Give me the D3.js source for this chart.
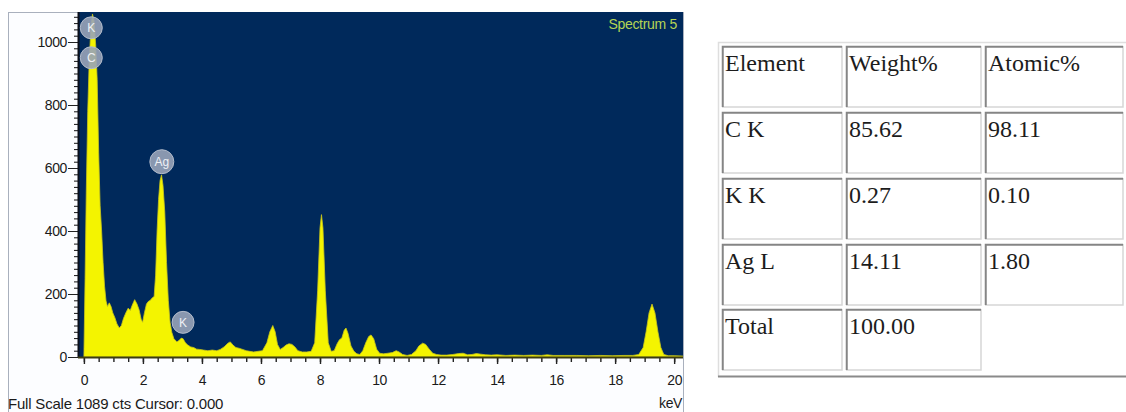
<!DOCTYPE html>
<meta charset="utf-8">
<style>
    body {
        margin: 0;
        background: #fff;
    }

    svg text {
        font-family: "Liberation Sans", Arial, sans-serif;
    }

    .axis text {
        fill: #1a1a1a;
        font-size: 14px;
        letter-spacing: -0.4px;
    }

    .cell text {
        font-family: "Liberation Serif", "Times New Roman", serif;
        font-size: 24px;
        fill: #1c1c1c;
    }
</style>

<body>
    <script src="https://d3js.org/d3.v7.min.js"></script>
    <script>
        // spectrum: [keV, counts]
        var spectrum = [
            [0.00, 0], [0.04, 250], [0.08, 520], [0.13, 780], [0.18, 940], [0.24, 1050],
            [0.29, 1089], [0.34, 1070], [0.40, 990], [0.45, 880], [0.50, 650], [0.55, 480],
            [0.60, 400], [0.65, 300], [0.70, 225], [0.75, 178], [0.80, 160], [0.86, 172],
            [0.92, 160], [0.98, 140], [1.05, 125], [1.12, 105], [1.20, 92], [1.27, 100],
            [1.34, 122], [1.42, 140], [1.50, 155], [1.57, 148], [1.64, 165], [1.72, 182],
            [1.80, 168], [1.87, 150], [1.94, 120], [1.99, 110], [2.05, 140], [2.12, 168],
            [2.18, 176], [2.25, 180], [2.32, 188], [2.38, 192], [2.43, 260], [2.48, 400],
            [2.53, 500], [2.58, 560], [2.63, 578], [2.68, 545], [2.74, 460], [2.80, 300],
            [2.86, 180], [2.92, 110], [2.98, 78], [3.05, 58], [3.15, 48], [3.22, 52],
            [3.30, 60], [3.36, 58], [3.44, 45], [3.52, 38], [3.62, 32], [3.72, 30],
            [3.82, 25], [3.92, 24], [4.05, 22], [4.20, 20], [4.35, 22], [4.50, 20],
            [4.62, 24], [4.75, 32], [4.88, 44], [4.96, 48], [5.05, 38], [5.15, 30],
            [5.25, 28], [5.35, 25], [5.50, 20], [5.62, 18], [5.75, 16], [5.90, 18],
            [6.05, 20], [6.20, 45], [6.30, 80], [6.40, 100], [6.48, 80], [6.56, 40],
            [6.65, 24], [6.75, 30], [6.85, 38], [6.95, 42], [7.05, 40], [7.15, 32],
            [7.25, 20], [7.40, 16], [7.55, 16], [7.70, 18], [7.82, 45], [7.92, 210],
            [8.00, 410], [8.05, 452], [8.10, 410], [8.18, 210], [8.28, 45], [8.38, 18],
            [8.48, 20], [8.58, 42], [8.66, 55], [8.74, 60], [8.82, 85], [8.88, 92],
            [8.95, 75], [9.05, 35], [9.15, 18], [9.25, 10], [9.35, 8], [9.45, 20],
            [9.55, 45], [9.65, 65], [9.73, 70], [9.82, 58], [9.92, 25], [10.02, 12],
            [10.15, 10], [10.30, 12], [10.45, 14], [10.58, 20], [10.68, 16], [10.80, 8],
            [10.95, 5], [11.10, 8], [11.25, 20], [11.35, 35], [11.48, 44], [11.58, 40],
            [11.70, 25], [11.82, 12], [11.95, 8], [12.10, 6], [12.30, 6], [12.50, 8],
            [12.70, 11], [12.85, 12], [13.00, 7], [13.15, 8], [13.30, 11], [13.45, 9],
            [13.60, 7], [13.80, 6], [14.00, 7], [14.30, 5], [14.60, 6], [14.90, 5],
            [15.20, 6], [15.50, 5], [15.70, 7], [15.90, 5], [16.30, 5], [16.70, 5],
            [17.10, 4], [17.50, 5], [17.90, 4], [18.30, 5], [18.60, 5], [18.80, 8],
            [18.95, 30], [19.05, 80], [19.15, 140], [19.25, 168], [19.35, 140], [19.45, 80],
            [19.55, 30], [19.65, 8], [19.80, 4], [20.00, 4], [20.30, 3]
        ];

        // element markers on the spectrum
        var peakLabels = ["K", "C", "Ag", "K"];
        var peakKeV = [0.25, 0.25, 2.64, 3.36];
        var peakCts = [1045, 950, 620, 110];

        var xTicks = [0, 2, 4, 6, 8, 10, 12, 14, 16, 18, 20];
        var yTicks = [0, 200, 400, 600, 800, 1000];

        var fullScale = 1089;
        var spectrumName = "Spectrum 5";

        // quantification table
        var tableHeader = ["Element", "Weight%", "Atomic%"];
        var elements = ["C K", "K K", "Ag L", "Total"];
        var weightPct = ["85.62", "0.27", "14.11", "100.00"];
        var atomicPct = ["98.11", "0.10", "1.80", null];

        var W = 1126,
            H = 412;
        var plot = {
            left: 78,
            right: 683,
            top: 12,
            bottom: 357
        };

        var svg = d3.select("body").append("svg")
            .attr("width", W)
            .attr("height", H);

        var x = d3.scaleLinear()
            .domain([-0.2, 20.3])
            .range([plot.left, plot.right]);
        var y = d3.scaleLinear()
            .domain([0, 1000])
            .range([plot.bottom, 42]);

        // panel frame
        svg.append("rect")
            .attr("x", 8.5)
            .attr("y", 12.5)
            .attr("width", plot.right - 8)
            .attr("height", H)
            .style("fill", "#fcfdff")
            .style("stroke", "#a9b0bd");

        svg.append("rect")
            .attr("x", plot.left)
            .attr("y", plot.top)
            .attr("width", plot.right - plot.left)
            .attr("height", plot.bottom - plot.top)
            .style("fill", "#00295b");

        svg.append("clipPath")
            .attr("id", "clip")
            .append("rect")
            .attr("x", plot.left)
            .attr("y", plot.top)
            .attr("width", plot.right - plot.left)
            .attr("height", plot.bottom - plot.top);

        var area = d3.area()
            .x(function(d) { return x(d[0]); })
            .y0(plot.bottom)
            .y1(function(d) { return y(d[1]); });

        svg.append("path")
            .datum(spectrum)
            .attr("clip-path", "url(#clip)")
            .attr("d", area)
            .style("fill", "#f4f400")
            .style("stroke", "#c9c51a")
            .style("stroke-width", 0.8);

        // axes
        var yAxis = d3.axisLeft(y)
            .tickValues(d3.range(0, 1081, 20))
            .tickSize(4)
            .tickFormat("");
        svg.append("g")
            .attr("class", "axis")
            .attr("transform", "translate(" + plot.left + ",0)")
            .call(yAxis)
            .call(function(g) {
                g.select(".domain").remove();
                g.selectAll("line").style("stroke", "#111");
            });

        var yMajor = d3.axisLeft(y)
            .tickValues(yTicks)
            .tickSize(10)
            .tickPadding(1)
            .tickFormat(d3.format("d"));
        svg.append("g")
            .attr("class", "axis")
            .attr("transform", "translate(" + plot.left + ",0)")
            .call(yMajor)
            .call(function(g) {
                g.select(".domain").remove();
                g.selectAll("line").style("stroke", "#222");
            });

        svg.append("line")
            .attr("x1", plot.left + 0.5)
            .attr("x2", plot.left + 0.5)
            .attr("y1", plot.top)
            .attr("y2", plot.bottom)
            .style("stroke", "#0a0f1a")
            .style("stroke-width", 2);

        var xMinor = d3.axisBottom(x)
            .tickValues(d3.range(0, 20.01, 0.5))
            .tickSize(5)
            .tickFormat("");
        svg.append("g")
            .attr("class", "axis")
            .attr("transform", "translate(0," + plot.bottom + ")")
            .call(xMinor)
            .call(function(g) {
                g.select(".domain").remove();
                g.selectAll("line").style("stroke", "#222").style("stroke-width", 1.4);
            });

        var xMajor = d3.axisBottom(x)
            .tickValues(xTicks)
            .tickSize(7)
            .tickPadding(11);
        svg.append("g")
            .attr("class", "axis")
            .attr("transform", "translate(0," + plot.bottom + ")")
            .call(xMajor)
            .call(function(g) {
                g.select(".domain").remove();
                g.selectAll("line").style("stroke", "#222").style("stroke-width", 1.4);
            });

        svg.append("line")
            .attr("x1", plot.left)
            .attr("x2", plot.right)
            .attr("y1", plot.bottom + 0.5)
            .attr("y2", plot.bottom + 0.5)
            .style("stroke", "#3c3c12")
            .style("stroke-width", 2);

        // peak markers
        var marks = svg.selectAll(".peak")
            .data(peakLabels)
            .enter().append("g")
            .attr("class", "peak")
            .attr("transform", function(d, i) {
                return "translate(" + x(peakKeV[i]) + "," + y(peakCts[i]) + ")";
            });

        marks.append("circle")
            .attr("r", function(d) { return d == "Ag" ? 12 : 11; })
            .style("fill", "#98a3b8")
            .style("fill-opacity", 0.9)
            .style("stroke", "#b3bccb")
            .style("stroke-width", 1);

        marks.append("text")
            .attr("text-anchor", "middle")
            .attr("dy", "0.36em")
            .style("font-size", "12px")
            .style("fill", "#eef0f5")
            .text(function(d) { return d; });

        svg.append("text")
            .attr("x", 677)
            .attr("y", 29)
            .attr("text-anchor", "end")
            .style("font-size", "14px")
            .style("letter-spacing", "-0.3px")
            .style("fill", "#b4d455")
            .text(spectrumName);

        svg.append("text")
            .attr("x", 8)
            .attr("y", 409)
            .style("font-size", "15px")
            .style("letter-spacing", "-0.2px")
            .style("fill", "#1a1a1a")
            .text("Full Scale " + fullScale + " cts Cursor: 0.000");

        svg.append("text")
            .attr("x", plot.right - 1)
            .attr("y", 408)
            .attr("text-anchor", "end")
            .style("font-size", "14px")
            .style("letter-spacing", "-0.4px")
            .style("fill", "#1a1a1a")
            .text("keV");

        // table
        var colX = [722, 846, 985];
        var colW = [120, 135, 138];
        var rowY = [46, 112, 178, 244, 309];
        var rowH = 61;

        var rows = [tableHeader].concat(elements.map(function(e, i) {
            return [e, weightPct[i], atomicPct[i]];
        }));

        var tbl = svg.append("g").attr("class", "table");

        tbl.append("path")
            .attr("d", "M718.5,377 V42.5 H1126")
            .style("fill", "none")
            .style("stroke", "#dedede")
            .style("stroke-width", 1.5);
        tbl.append("line")
            .attr("x1", 718)
            .attr("x2", 1126)
            .attr("y1", 376.5)
            .attr("y2", 376.5)
            .style("stroke", "#8a8a8a")
            .style("stroke-width", 2);

        rows.forEach(function(r, ri) {
            r.forEach(function(v, ci) {
                if (v === null) return;
                var cx = colX[ci],
                    cy = rowY[ri],
                    cw = colW[ci];
                var cell = tbl.append("g").attr("class", "cell");
                cell.append("path")
                    .attr("d", "M" + cx + "," + (cy + rowH) + " H" + (cx + cw) + " V" + cy)
                    .style("fill", "none")
                    .style("stroke", "#d6d6d6")
                    .style("stroke-width", 1.5);
                cell.append("path")
                    .attr("d", "M" + (cx + 0.75) + "," + (cy + rowH) + " V" + (cy + 0.75) + " H" + (cx + cw))
                    .style("fill", "none")
                    .style("stroke", "#858585")
                    .style("stroke-width", 2);
                cell.append("text")
                    .attr("x", cx + 3)
                    .attr("y", cy + 25)
                    .text(v);
            });
        });
    </script>
</body>
